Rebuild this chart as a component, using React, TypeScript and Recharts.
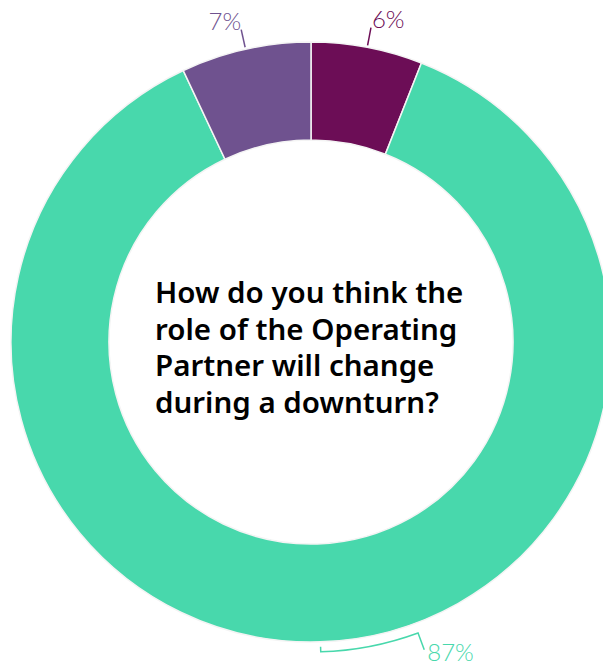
import React from 'react';
import { PieChart, Pie, Cell } from 'recharts';

const categories = ['Role grows', 'Role stays the same', 'Role shrinks'];
const shares = [6, 87, 7];
const colors = ['#6C0D56', '#48D8AC', '#6F528F'];
const questionLines = [
  'How do you think the',
  'role of the Operating',
  'Partner will change',
  'during a downturn?',
];

const data = categories.map((name, i) => ({ name, value: shares[i] }));

const RAD = Math.PI / 180;
const pt = (cx: number, cy: number, r: number, a: number) => ({
  x: cx + r * Math.cos(-a * RAD),
  y: cy + r * Math.sin(-a * RAD),
});

function SliceLabel(props: any) {
  const { cx, cy, midAngle, outerRadius, index, value } = props;
  const color = colors[index % colors.length];
  const text = `${value}%`;
  const font = { fontFamily: 'Lato, sans-serif', fontWeight: 300, fontSize: 24 };
  const ang = ((midAngle % 360) + 360) % 360;
  if (ang > 0 && ang < 180) {
    // top slices: short radial leader
    const a = pt(cx, cy, outerRadius + 2, midAngle);
    const b = pt(cx, cy, outerRadius + 20, midAngle);
    const left = b.x < cx;
    return (
      <g>
        <line x1={a.x} y1={a.y} x2={b.x} y2={b.y} stroke={color} strokeWidth={1.5} />
        <text x={left ? b.x : b.x + 1} y={b.y} fill={color} textAnchor={left ? 'end' : 'start'} style={font}>
          {text}
        </text>
      </g>
    );
  }
  // big slice: bracket along the bottom of the ring
  const r = outerRadius + 10;
  const a2 = midAngle + 18.4;
  const p0 = pt(cx, cy, outerRadius + 5, midAngle);
  const p1 = pt(cx, cy, r, midAngle);
  const p2 = pt(cx, cy, r, a2);
  const p3 = pt(cx, cy, outerRadius + 28, a2);
  const d = `M${p0.x},${p0.y} L${p1.x},${p1.y} A${r},${r} 0 0 0 ${p2.x},${p2.y} L${p3.x},${p3.y}`;
  return (
    <g>
      <path d={d} fill="none" stroke={color} strokeWidth={1.5} />
      <text x={p3.x + 3} y={p3.y + 11} fill={color} style={font}>
        {text}
      </text>
    </g>
  );
}

export default function App() {
  return (
    <div style={{ position: 'absolute', left: 0, top: 0, width: 603, height: 665, background: '#fff' }}>
      <PieChart width={603} height={665} margin={{ top: 0, right: 0, bottom: 0, left: 0 }}>
        <Pie
          data={data}
          dataKey="value"
          cx={311}
          cy={342}
          innerRadius={202}
          outerRadius={300}
          startAngle={90}
          endAngle={-270}
          stroke="#f4f4f4"
          strokeWidth={1.5}
          label={SliceLabel}
          labelLine={false}
          isAnimationActive={false}
        >
          {data.map((d, i) => (
            <Cell key={i} fill={colors[i % colors.length]} />
          ))}
        </Pie>
      </PieChart>
      <div
        style={{
          position: 'absolute',
          left: 155,
          top: 274,
          fontFamily: '"Noto Sans", sans-serif',
          fontWeight: 600,
          fontSize: 29.5,
          lineHeight: '36.5px',
          color: '#000',
          whiteSpace: 'nowrap',
        }}
      >
        {questionLines.map((l, i) => (
          <div key={i}>{l}</div>
        ))}
      </div>
    </div>
  );
}
